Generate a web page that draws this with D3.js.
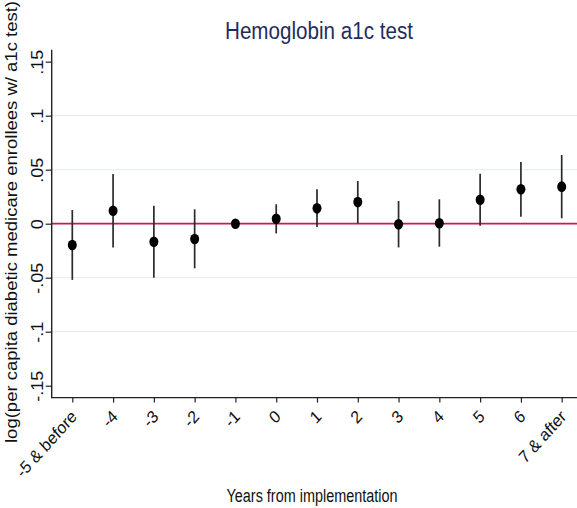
<!DOCTYPE html>
<html>
<head>
<meta charset="utf-8">
<script src="https://cdn.jsdelivr.net/npm/d3@7"></script>
<style>
  html, body { margin: 0; padding: 0; background: #fff; }
  svg { display: block; font-family: "Liberation Sans", Arial, sans-serif; }
</style>
</head>
<body>
<svg id="chart" width="577" height="508"></svg>
<script>
const categories = ["-5 & before","-4","-3","-2","-1","0","1","2","3","4","5","6","7 & after"];
const estimates  = [-0.0197, 0.012, -0.0167, -0.0142, 0.0, 0.0046, 0.0142, 0.0200, -0.0006, 0.0004, 0.0222, 0.0318, 0.0343];
const lowerCI    = [-0.0520, -0.022, -0.0500, -0.0413, null, -0.0090, -0.0030, 0.0004, -0.0220, -0.0213, -0.0019, 0.0065, 0.0050];
const upperCI    = [0.0127, 0.046, 0.0167, 0.0133, null, 0.0180, 0.0320, 0.0395, 0.0210, 0.0226, 0.0463, 0.0571, 0.0636];
const yTickValues = [-0.15, -0.1, -0.05, 0, 0.05, 0.1, 0.15];
const yTickLabels = ["-.15", "-.1", "-.05", "0", ".05", ".1", ".15"];
const gridValues  = [-0.1, -0.05, 0.05, 0.1];
const titleText = "Hemoglobin a1c test";
const xTitle = "Years from implementation";
const yTitle = "log(per capita diabetic medicare enrollees w/ a1c test)";

const svg = d3.select("#chart");
const W = 577;
const axisX = 51.7;
const x = d3.scaleLinear().domain([0, categories.length - 1]).range([72.3, 561.7]);
const y = d3.scaleLinear().domain([-0.161, 0.161]).range([397.6, 49.8]);
const axisY = y(-0.161);

// gridlines
svg.append("g").selectAll("line").data(gridValues).join("line")
  .attr("x1", axisX).attr("x2", W)
  .attr("y1", d => y(d)).attr("y2", d => y(d))
  .attr("stroke", "#e8eff1").attr("stroke-width", 1.3);

// zero reference line
svg.append("line")
  .attr("x1", axisX).attr("x2", W)
  .attr("y1", y(0)).attr("y2", y(0))
  .attr("stroke", "#c41e4a").attr("stroke-width", 1.8);

// y axis
const yAxis = d3.axisLeft(y).tickValues(yTickValues).tickSize(6)
  .tickFormat((d, i) => yTickLabels[i]);
const gy = svg.append("g").attr("transform", `translate(${axisX},0)`).call(yAxis);
gy.select(".domain").remove();
gy.selectAll(".tick line").attr("stroke", "#222").attr("stroke-width", 1.2);
gy.selectAll(".tick text").remove();
gy.selectAll(".tick").append("text")
  .attr("transform", "translate(-9,0) scale(0.9,1) rotate(-90)")
  .attr("text-anchor", "middle")
  .attr("fill", "#111")
  .attr("font-size", 18)
  .text((d, i) => yTickLabels[i]);
svg.append("line").attr("x1", axisX).attr("x2", axisX)
  .attr("y1", y(0.161)).attr("y2", axisY + 0.7)
  .attr("stroke", "#222").attr("stroke-width", 1.4);

// x axis
const xAxis = d3.axisBottom(x).tickValues(d3.range(categories.length)).tickSize(5)
  .tickFormat(i => categories[i]);
const gx = svg.append("g").attr("transform", `translate(0,${axisY})`).call(xAxis);
gx.select(".domain").remove();
gx.selectAll(".tick line").attr("stroke", "#222").attr("stroke-width", 1.2);
gx.selectAll(".tick text").remove();
gx.selectAll(".tick").append("text")
  .attr("transform", "translate(5,20) scale(0.9,1) rotate(-45)")
  .attr("text-anchor", "end")
  .attr("fill", "#111")
  .attr("font-size", 17.5)
  .text(i => categories[i]);
svg.append("line").attr("x1", axisX).attr("x2", W)
  .attr("y1", axisY).attr("y2", axisY)
  .attr("stroke", "#222").attr("stroke-width", 1.4);

// error bars
const idx = d3.range(categories.length).filter(i => lowerCI[i] !== null);
svg.append("g").selectAll("line").data(idx).join("line")
  .attr("x1", i => x(i)).attr("x2", i => x(i))
  .attr("y1", i => y(lowerCI[i])).attr("y2", i => y(upperCI[i]))
  .attr("stroke", "#2a2a2a").attr("stroke-width", 1.7);

// points
svg.append("g").selectAll("ellipse").data(d3.range(categories.length)).join("ellipse")
  .attr("cx", i => x(i)).attr("cy", i => y(estimates[i]))
  .attr("rx", 4.5).attr("ry", 5.3)
  .attr("fill", "#000");

// titles
svg.append("text")
  .attr("x", 319).attr("y", 39.3)
  .attr("text-anchor", "middle")
  .attr("font-size", 23)
  .attr("fill", "#1f2d5a")
  .attr("textLength", 188).attr("lengthAdjust", "spacingAndGlyphs")
  .text(titleText);

svg.append("text")
  .attr("x", 312).attr("y", 501.7)
  .attr("text-anchor", "middle")
  .attr("font-size", 18)
  .attr("fill", "#111")
  .attr("textLength", 171).attr("lengthAdjust", "spacingAndGlyphs")
  .text(xTitle);

svg.append("text")
  .attr("transform", "translate(16.5,222) scale(0.88,1) rotate(-90)")
  .attr("text-anchor", "middle")
  .attr("font-size", 18.5)
  .attr("fill", "#111")
  .attr("textLength", 442).attr("lengthAdjust", "spacingAndGlyphs")
  .text(yTitle);
</script>
</body>
</html>
